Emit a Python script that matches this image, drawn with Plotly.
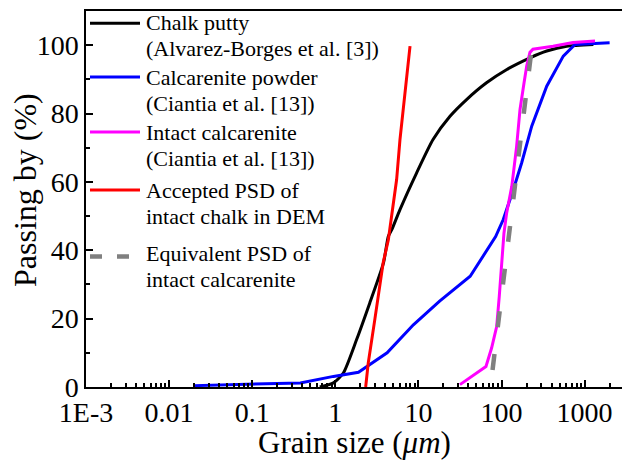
import plotly.graph_objects as go

# Particle size distributions (grain size in um, percentage passing)
chalk_putty_size = [0.65, 0.95, 1.25, 1.8, 2.6, 3.8, 4.35, 4.8, 6.0, 9.5, 15, 24, 38, 66, 116, 220, 350, 610, 1275]
chalk_putty_pass = [0, 1.2, 4.1, 13.8, 24.6, 36.3, 44.1, 46.1, 51.9, 62.6, 72.4, 79.2, 84.1, 89, 92.9, 96.3, 98.3, 99.7, 100.2]

calc_powder_size = [0.02, 0.22, 0.38, 0.95, 1.9, 4.2, 8.7, 18, 42, 85, 105, 139, 175, 231, 350, 554, 766, 2000]
calc_powder_pass = [0.4, 0.9, 1.2, 3.1, 4.3, 10, 18.2, 25.1, 32.4, 44, 49, 57.8, 65.6, 76.3, 88, 96.8, 100.2, 100.7]

intact_calc_size = [31.6, 65, 76, 87.5, 94, 100, 107, 115.5, 133, 152, 167, 187, 201, 220, 239, 417, 725, 1334]
intact_calc_pass = [0.7, 6.0, 11.4, 17.7, 26.5, 36.3, 45, 51, 58.7, 70.4, 81.2, 89.1, 93.9, 97.9, 98.8, 99.7, 100.8, 101.2]

accepted_size = [2.32, 2.49, 3.0, 3.77, 4.35, 5.47, 6.0, 7.93]
accepted_pass = [0, 7, 20, 36.4, 43.1, 60.7, 72.4, 99.7]

equivalent_size = [78, 236]
equivalent_pass = [5, 101]

# Axis ticks
x_tick_vals = [0.001, 0.01, 0.1, 1, 10, 100, 1000]
x_tick_text = ["1E-3", "0.01", "0.1", "1", "10", "100", "1000"]
y_tick_vals = [0, 20, 40, 60, 80, 100]

# Legend entries: each label is two lines
legend_labels = [
    ["Chalk putty", "(Alvarez-Borges et al. [3])"],
    ["Calcarenite powder", "(Ciantia et al. [13])"],
    ["Intact calcarenite", "(Ciantia et al. [13])"],
    ["Accepted PSD of", "intact chalk in DEM"],
    ["Equivalent PSD of", "intact calcarenite"],
]

FONT = "'Liberation Serif', 'Times New Roman', Times, serif"
W, H = 622, 461
L, R, T, B = 86, 0, 11, 74
PW, PH = W - L - R, H - T - B


def px(x):
    return (x - L) / PW


def py(y):
    return (H - B - y) / PH


colors = ["#000000", "#0000ff", "#ff00ff", "#ff0000", "#808080"]

fig = go.Figure()
fig.add_trace(go.Scatter(x=chalk_putty_size, y=chalk_putty_pass, mode="lines",
                         line=dict(color=colors[0], width=3, shape="spline", smoothing=0.6)))
fig.add_trace(go.Scatter(x=calc_powder_size, y=calc_powder_pass, mode="lines",
                         line=dict(color=colors[1], width=3)))
fig.add_trace(go.Scatter(x=intact_calc_size, y=intact_calc_pass, mode="lines",
                         line=dict(color=colors[2], width=3)))
fig.add_trace(go.Scatter(x=accepted_size, y=accepted_pass, mode="lines",
                         line=dict(color=colors[3], width=3)))
fig.add_trace(go.Scatter(x=equivalent_size, y=equivalent_pass, mode="lines",
                         line=dict(color=colors[4], width=4.5, dash="16px,27px")))

# Hand-placed legend: sample line + label lines (pixel baselines)
LEG_FS = 22
legend_line_y = [23.3, 77, 132, 190, 256.5]
legend_baselines = [30, 85, 140, 198, 261]
LINE_GAP = 26
shapes = []
annotations = []
for i, lines in enumerate(legend_labels):
    shapes.append(dict(type="line", xref="paper", yref="paper",
                       x0=px(90), x1=px(140), y0=py(legend_line_y[i]), y1=py(legend_line_y[i]),
                       line=dict(color=colors[i], width=4.5 if i == 4 else 3,
                                 dash="12px,15px" if i == 4 else "solid")))
    for j, txt in enumerate(lines):
        base = legend_baselines[i] + j * LINE_GAP
        annotations.append(dict(xref="paper", yref="paper", x=px(144), y=py(base - 7.4),
                                xanchor="left", yanchor="middle", align="left", showarrow=False,
                                text=txt, font=dict(family=FONT, size=LEG_FS, color="black")))

# Axis titles
annotations.append(dict(xref="paper", yref="paper", x=px(25), y=py(190),
                        xanchor="center", yanchor="middle", showarrow=False, textangle=-90,
                        text="Passing by (%)", font=dict(family=FONT, size=32, color="black")))
annotations.append(dict(xref="paper", yref="paper", x=0.5, y=py(442.5), borderpad=0,
                        xanchor="center", yanchor="middle", showarrow=False,
                        text="Grain size (<i>μm</i>)", font=dict(family=FONT, size=31, color="black")))

fig.update_layout(
    width=W, height=H,
    margin=dict(l=L, r=R, t=T, b=B),
    paper_bgcolor="white", plot_bgcolor="white",
    showlegend=False,
    font=dict(family=FONT, color="black"),
    shapes=shapes,
    annotations=annotations,
)
fig.update_xaxes(
    type="log", range=[-3, 3.45],
    tickvals=x_tick_vals, ticktext=x_tick_text,
    ticks="inside", ticklen=7, tickwidth=1.5, tickcolor="black",
    minor=dict(tickvals=[k * 10 ** e for e in range(-3, 4) for k in range(2, 10)],
               ticks="inside", ticklen=4, tickwidth=1.5, tickcolor="black"),
    showline=True, linecolor="black", linewidth=1.5, mirror=True,
    showgrid=False, zeroline=False,
    tickfont=dict(family=FONT, size=28),
)
fig.update_yaxes(
    range=[0, 110],
    tickvals=y_tick_vals,
    ticks="inside", ticklen=7, tickwidth=1.5, tickcolor="black",
    minor=dict(dtick=10, ticks="inside", ticklen=4, tickwidth=1.5, tickcolor="black"),
    showline=True, linecolor="black", linewidth=1.5,
    showgrid=False, zeroline=False,
    tickfont=dict(family=FONT, size=28),
)

fig.write_html("out.html")
